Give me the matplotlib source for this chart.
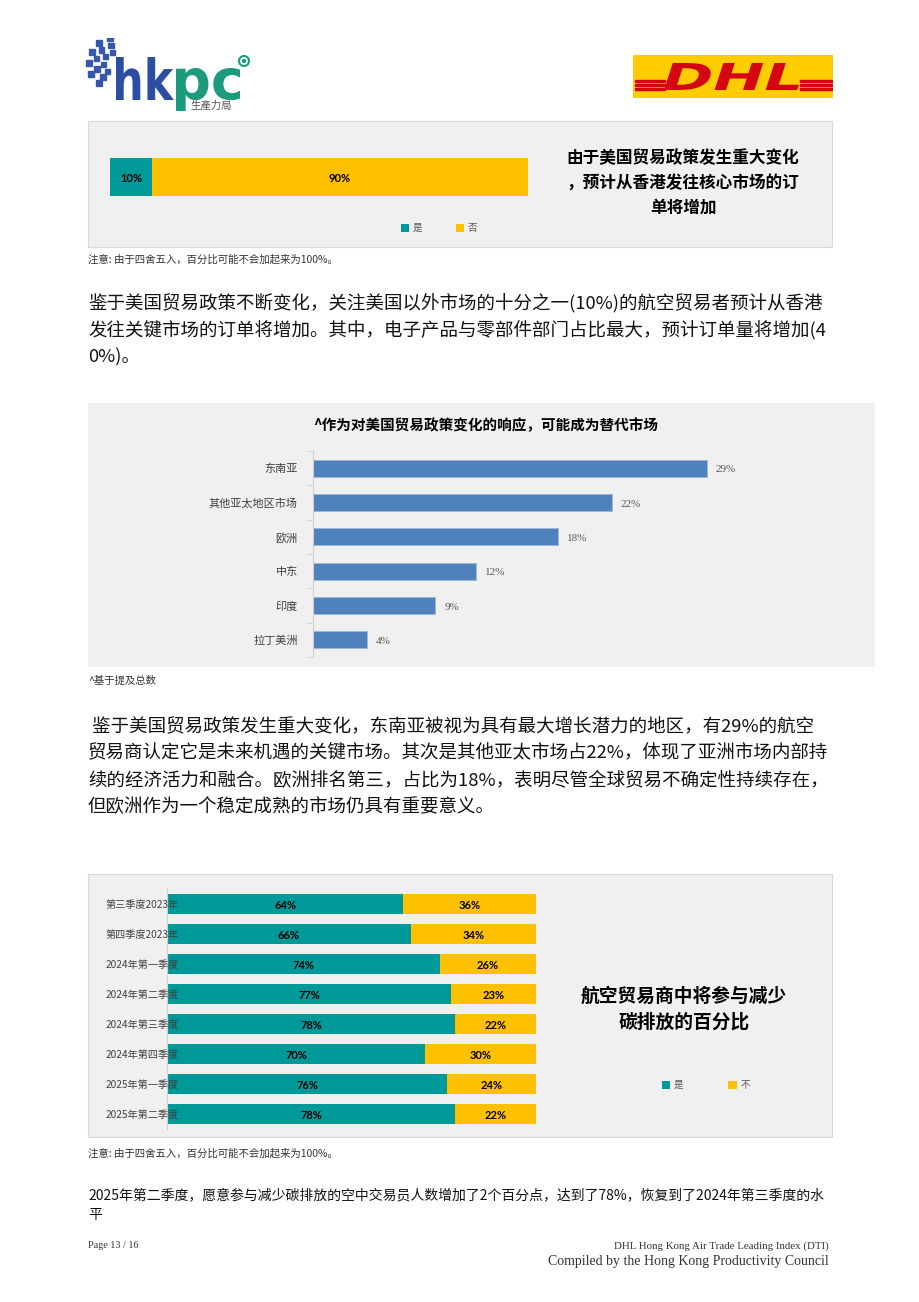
import numpy as np
import matplotlib.pyplot as plt
from matplotlib.patches import Rectangle, PathPatch, Circle
from matplotlib.textpath import TextPath
from matplotlib.font_manager import FontProperties
from matplotlib.transforms import Affine2D

plt.rcParams['font.family'] = ['Noto Sans CJK SC', 'DejaVu Sans']

W, H = 920, 1302

# chart 1: orders from HK to core markets
orders_labels = ['是', '否']
orders_yes = [10]
orders_no = [90]

# chart 2: alternative markets
market_names = ['东南亚', '其他亚太地区市场', '欧洲', '中东', '印度', '拉丁美洲']
market_share = [29, 22, 18, 12, 9, 4]

# chart 3: carbon reduction by quarter
quarters = ['第三季度2023年', '第四季度2023年', '2024年第一季度', '2024年第二季度',
            '2024年第三季度', '2024年第四季度', '2025年第一季度', '2025年第二季度']
carbon_yes = [64, 66, 74, 77, 78, 70, 76, 78]
carbon_no = [36, 34, 26, 23, 22, 30, 24, 22]
carbon_labels = ['是', '不']

para1 = ['鉴于美国贸易政策不断变化，关注美国以外市场的十分之一(10%)的航空贸易者预计从香港',
         '发往关键市场的订单将增加。其中，电子产品与零部件部门占比最大，预计订单量将增加(4',
         '0%)。']
para2 = [' 鉴于美国贸易政策发生重大变化，东南亚被视为具有最大增长潜力的地区，有29%的航空',
         '贸易商认定它是未来机遇的关键市场。其次是其他亚太市场占22%，体现了亚洲市场内部持',
         '续的经济活力和融合。欧洲排名第三，占比为18%，表明尽管全球贸易不确定性持续存在，',
         '但欧洲作为一个稳定成熟的市场仍具有重要意义。']
para3 = ['2025年第二季度，愿意参与减少碳排放的空中交易员人数增加了2个百分点，达到了78%，恢复到了2024年第三季度的水',
         '平']
note_round = '注意: 由于四舍五入，百分比可能不会加起来为100%。'

TEAL = '#009999'
GOLD = '#ffc000'
BLUE = '#4f81bd'
PANEL = '#f0f0f0'
NUM_FONT = ['Lato', 'DejaVu Sans']
SERIF = ['Liberation Serif', 'DejaVu Serif']

fig = plt.figure(figsize=(W / 100, H / 100), dpi=100)


def box(x0, y0, x1, y1):
    return [x0 / W, 1 - y1 / H, (x1 - x0) / W, (y1 - y0) / H]


def ftext(x, y, s, **kw):
    return fig.text(x / W, 1 - y / H, s, **kw)


def panel(x0, y0, x1, y1, edge='#d9d9d9'):
    fig.add_artist(Rectangle((x0 / W, 1 - y1 / H), (x1 - x0) / W, (y1 - y0) / H,
                             transform=fig.transFigure, facecolor=PANEL,
                             edgecolor=edge, lw=0.8, zorder=-1))


def fit_text(ax, s, x0, x1, ytop, ybot, color, skew=0, weight='bold'):
    # ytop / ybot are page pixel rows (y down)
    fp = FontProperties(family='DejaVu Sans', weight=weight)
    path = TextPath((0, 0), s, size=10, prop=fp)
    ext = path.get_extents()
    h = ybot - ytop
    shift = h * np.tan(np.radians(skew))
    sx = (x1 - x0 - shift) / ext.width
    sy = h / ext.height
    tr = (Affine2D().translate(-ext.x0, -ext.y0).scale(sx, sy)
          .skew_deg(skew, 0).translate(x0, H - ybot) + ax.transData)
    ax.add_patch(PathPatch(path, transform=tr, fc=color, ec='none'))


# ---- logos ----
lax = fig.add_axes(box(84, 38, 258, 116))
lax.set_xlim(84, 258)
lax.set_ylim(H - 116, H - 38)
lax.axis('off')
cx, cy = 114, H - 63
for r, n, sz in [(11, 4, 5), (18, 5, 5.5), (25, 6, 6)]:
    for a in np.linspace(100, 232, n):
        xx = cx + r * np.cos(np.radians(a))
        yy = cy + r * np.sin(np.radians(a))
        lax.add_patch(Rectangle((xx - sz / 2, yy - sz / 2), sz, sz,
                                color='#3558aa'))
fit_text(lax, 'hk', 116, 174, 57, 100, '#2b4ea2')
fit_text(lax, 'pc', 176, 240, 68, 111, '#1b9a7c')
lax.add_patch(Circle((244, H - 61), 5, fc='white', ec='#1b9a7c', lw=1.5))
lax.add_patch(Circle((244, H - 61), 2.2, fc='#1b9a7c', ec='none'))
lax.text(190, H - 106, '生產力局', fontsize=7.5, color='#555555', va='center')

dax = fig.add_axes(box(633, 55, 833, 98))
dax.set_xlim(633, 833)
dax.set_ylim(H - 98, H - 55)
dax.axis('off')
dax.add_patch(Rectangle((633, H - 98), 200, 43, color='#ffcc00'))
for yy in [81, 85, 89]:
    dax.add_patch(Rectangle((635, H - yy - 1.3), 30, 2.6, color='#d40511'))
    dax.add_patch(Rectangle((800, H - yy - 1.3), 33, 2.6, color='#d40511'))
fit_text(dax, 'DHL', 664, 806, 63, 90, '#d40511', skew=18)

# ---- chart 1 ----
panel(88, 121, 832, 247)
ax1 = fig.add_axes(box(110, 158, 528, 196))
ax1.barh([0], orders_yes, height=1, color=TEAL, label=orders_labels[0])
ax1.barh([0], orders_no, left=orders_yes, height=1, color=GOLD, label=orders_labels[1])
ax1.set_xlim(0, 100)
ax1.set_ylim(-0.5, 0.5)
ax1.axis('off')
ax1.text(orders_yes[0] / 2, -0.04, f'{orders_yes[0]}%', ha='center', va='center',
         fontsize=8, fontweight='bold', family=NUM_FONT)
ax1.text(orders_yes[0] + orders_no[0] / 2, -0.04, f'{orders_no[0]}%', ha='center',
         va='center', fontsize=8, fontweight='bold', family=NUM_FONT)
h1, l1 = ax1.get_legend_handles_labels()
fig.legend(h1, l1, loc='center', bbox_to_anchor=(439 / W, 1 - 228 / H), ncol=2,
           frameon=False, fontsize=7, handlelength=0.85, handleheight=0.85,
           handletextpad=0.4, columnspacing=3.4, labelcolor='#595959')
ftext(683, 183, '由于美国贸易政策发生重大变化\n，预计从香港发往核心市场的订\n单将增加',
      ha='center', va='center', fontsize=12, fontweight='bold', linespacing=1.5)
ftext(88, 259, note_round, fontsize=7.5, color='#333333', va='center')

for i, line in enumerate(para1):
    ftext(88, 304 + i * 26.5, line, fontsize=13.3, color='#111111', va='center')

# ---- chart 2 ----
panel(88, 403, 874, 666, edge=PANEL)
ftext(486, 425, '^作为对美国贸易政策变化的响应，可能成为替代市场', ha='center',
      va='center', fontsize=10.5, fontweight='bold')
ax2 = fig.add_axes(box(313, 451, 748, 657))
y2 = np.arange(len(market_names))
ax2.barh(y2, market_share, height=0.5, color=BLUE, edgecolor='#9cb6d8', lw=0.6)
ax2.set_xlim(0, 32)
ax2.set_ylim(len(market_names) - 0.5, -0.5)
ax2.set_yticks(y2, market_names, fontsize=8, color='#404040')
ax2.set_yticks(np.arange(-0.5, len(market_names)), minor=True)
ax2.tick_params(axis='y', which='major', length=0, pad=11)
ax2.tick_params(axis='y', which='minor', length=5, color='#d0d0d0')
ax2.set_xticks([])
for s in ['top', 'right', 'bottom']:
    ax2.spines[s].set_visible(False)
ax2.spines['left'].set_color('#d0d0d0')
ax2.patch.set_visible(False)
for yi, v in zip(y2, market_share):
    ax2.text(v + 0.65, yi + 0.05, f'{v}%', va='center', fontsize=8, color='#595959',
             family=SERIF)
ftext(88, 681, '^基于提及总数', fontsize=7.5, color='#333333', va='center')

for i, line in enumerate(para2):
    ftext(88, 727 + i * 26.7, line, fontsize=13.3, color='#111111', va='center')

# ---- chart 3 ----
panel(88, 874, 832, 1137)
ax3 = fig.add_axes(box(167, 889, 536, 1129))
y3 = np.arange(len(quarters))
ax3.barh(y3, carbon_yes, height=0.66, color=TEAL, label=carbon_labels[0])
ax3.barh(y3, carbon_no, left=carbon_yes, height=0.66, color=GOLD, label=carbon_labels[1])
ax3.set_xlim(0, 100)
ax3.set_ylim(len(quarters) - 0.5, -0.5)
ax3.set_yticks(y3, quarters, fontsize=7.3, color='#404040', ha='left')
ax3.tick_params(axis='y', length=0, pad=44)
ax3.set_axisbelow(False)
ax3.set_xticks([])
for s in ['top', 'right', 'bottom']:
    ax3.spines[s].set_visible(False)
ax3.spines['left'].set_color('#d0d0d0')
ax3.patch.set_visible(False)
for yi, a, b in zip(y3, carbon_yes, carbon_no):
    ax3.text(a / 2, yi + 0.05, f'{a}%', ha='center', va='center', fontsize=8,
             fontweight='bold', family=NUM_FONT)
    ax3.text(a + b / 2, yi + 0.05, f'{b}%', ha='center', va='center', fontsize=8,
             fontweight='bold', family=NUM_FONT)
h3, l3 = ax3.get_legend_handles_labels()
fig.legend(h3, l3, loc='center', bbox_to_anchor=(706 / W, 1 - 1085 / H), ncol=2,
           frameon=False, fontsize=7, handlelength=0.85, handleheight=0.85,
           handletextpad=0.4, columnspacing=4.6, labelcolor='#595959')
ftext(684, 1009, '航空贸易商中将参与减少\n碳排放的百分比', ha='center', va='center',
      fontsize=13.5, fontweight='bold', linespacing=1.45)
ftext(88, 1153, note_round, fontsize=7.5, color='#333333', va='center')

for i, line in enumerate(para3):
    ftext(88, 1195 + i * 20, line, fontsize=10.0, color='#111111', va='center')

# ---- footer ----
ftext(88, 1246, 'Page 13 / 16', fontsize=7.3, color='#333333', va='center', family=SERIF)
ftext(829, 1246, 'DHL Hong Kong Air Trade Leading Index (DTI)', fontsize=7.8,
      color='#333333', va='center', ha='right', family=SERIF)
ftext(829, 1262, 'Compiled by the Hong Kong Productivity Council', fontsize=10,
      color='#333333', va='center', ha='right', family=SERIF)

fig.savefig('out.png', dpi=100)
